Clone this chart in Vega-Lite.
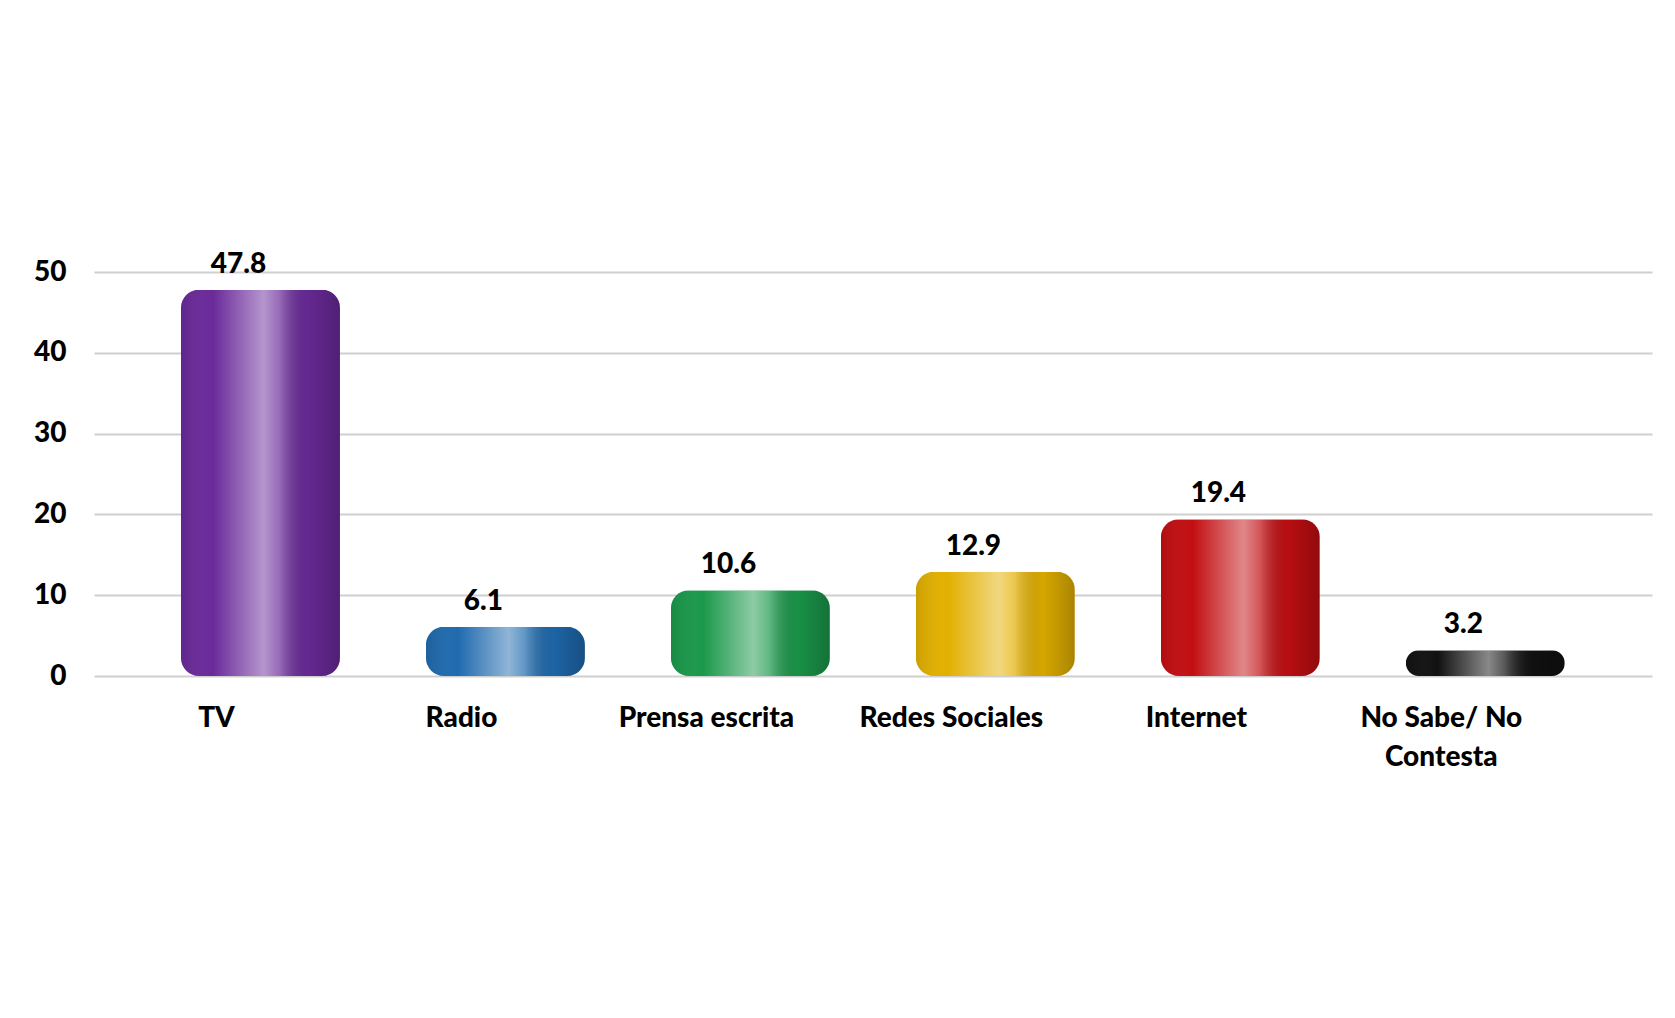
{
  "$schema": "https://vega.github.io/schema/vega-lite/v6.json",
  "autosize": "none",
  "width": 1558,
  "height": 404,
  "padding": {"left": 94, "top": 272, "right": 23, "bottom": 342},
  "background": "#ffffff",
  "config": {
    "view": {"stroke": null},
    "font": "Lato"
  },
  "data": {
    "values": [
      {"medio": "TV", "valor": 47.8},
      {"medio": "Radio", "valor": 6.1},
      {"medio": "Prensa escrita", "valor": 10.6},
      {"medio": "Redes Sociales", "valor": 12.9},
      {"medio": "Internet", "valor": 19.4},
      {"medio": "No Sabe/ No Contesta", "valor": 3.2}
    ]
  },
  "encoding": {
    "x": {
      "field": "medio",
      "type": "nominal",
      "sort": null,
      "scale": {"paddingInner": 0, "paddingOuter": 0.18, "align": 0},
      "axis": {
        "title": null,
        "domain": false,
        "ticks": false,
        "labelAngle": 0,
        "labelFont": "Lato",
        "labelFontSize": 28,
        "labelFontWeight": 900,
        "labelColor": "#000000",
        "labelPadding": 28,
        "labelBaseline": "top",
        "labelLineHeight": 39,
        "labelLimit": 300,
        "labelExpr": "datum.label == 'No Sabe/ No Contesta' ? ['No Sabe/ No', 'Contesta'] : datum.label"
      }
    },
    "y": {
      "field": "valor",
      "type": "quantitative",
      "scale": {"domain": [0, 50], "nice": false},
      "axis": {
        "title": null,
        "domain": false,
        "ticks": false,
        "values": [0, 10, 20, 30, 40, 50],
        "labelFont": "Lato",
        "labelFontSize": 28,
        "labelFontWeight": 900,
        "labelColor": "#000000",
        "labelPadding": 28,
        "grid": true,
        "gridColor": "#cfcfcf",
        "gridWidth": 2
      }
    }
  },
  "layer": [
    {
      "mark": {"type": "bar", "width": 159, "xOffset": 44, "cornerRadius": 18},
      "encoding": {
        "color": {
          "field": "medio",
          "type": "nominal",
          "legend": null,
          "scale": {
            "domain": ["TV", "Radio", "Prensa escrita", "Redes Sociales", "Internet", "No Sabe/ No Contesta"],
            "range": ["#6a2a9a", "#1f6aae", "#1a984a", "#e2b000", "#c20e12", "#111111"]
          }
        }
      }
    },
    {
      "mark": {
        "type": "bar",
        "width": 159,
        "xOffset": 44,
        "cornerRadius": 18,
        "fill": {
          "gradient": "linear",
          "x1": 0, "y1": 0, "x2": 1, "y2": 0,
          "stops": [
            {"offset": 0, "color": "rgba(0,0,0,0.10)"},
            {"offset": 0.2, "color": "rgba(255,255,255,0)"},
            {"offset": 0.42, "color": "rgba(255,255,255,0.35)"},
            {"offset": 0.52, "color": "rgba(255,255,255,0.5)"},
            {"offset": 0.62, "color": "rgba(255,255,255,0.3)"},
            {"offset": 0.8, "color": "rgba(0,0,0,0.05)"},
            {"offset": 1, "color": "rgba(0,0,0,0.25)"}
          ]
        }
      }
    },
    {
      "mark": {
        "type": "text",
        "xOffset": 22,
        "dy": -25,
        "baseline": "middle",
        "font": "Lato",
        "fontSize": 28,
        "fontWeight": 900,
        "color": "#000000"
      },
      "encoding": {
        "text": {"field": "valor", "type": "quantitative", "format": ".1f"}
      }
    }
  ]
}
